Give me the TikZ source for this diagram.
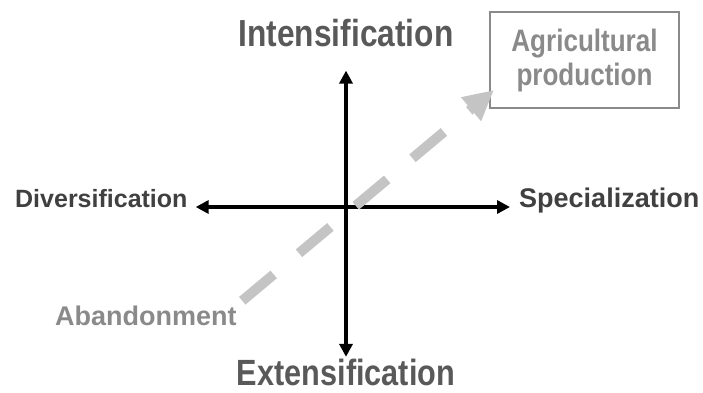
\documentclass[tikz,border=0pt]{standalone}
\usepackage{fontspec}
\setmainfont{Liberation Sans}
\newfontfamily\narrowfont{Liberation Sans}[FakeStretch=0.84]
\usetikzlibrary{arrows.meta}
\definecolor{labelgray}{HTML}{595959}
\definecolor{sidegray}{HTML}{404040}
\definecolor{pathgray}{HTML}{8A8A8A}
\definecolor{dashgray}{HTML}{C4C4C4}
\begin{document}
\begin{tikzpicture}[x=1pt, y=1pt,
	axis/.style={line width=4pt, {Triangle[length=13pt,width=13pt]}-{Triangle[length=13pt,width=13pt]}},
	mainlabel/.style={inner sep=0pt, text=labelgray, font=\narrowfont\bfseries\fontsize{37.7}{40}\selectfont},
	sidelabel/.style={inner sep=0pt, text=sidegray, font=\bfseries\fontsize{25}{28}\selectfont},
	pathlabel/.style={inner sep=0pt, text=pathgray, font=\bfseries\fontsize{27}{30}\selectfont},
	agribox/.style={shape=rectangle, draw=pathgray, line width=2pt, minimum width=189pt, minimum height=96pt, inner sep=0pt, align=center, text=pathgray, font=\narrowfont\bfseries\fontsize{31}{34}\selectfont},
	pathway/.style={line width=10pt, draw=dashgray, dash pattern=on 41pt off 33pt, -{Triangle[length=30pt,width=29pt]}}]
	\useasboundingbox (0, 0) rectangle (703, 392);
	% Labels:
	\node[mainlabel, anchor=base] (intens) at (346, 345){Intensification};
	\node[mainlabel, anchor=base, font=\narrowfont\bfseries\fontsize{36.5}{40}\selectfont] (extens) at (346, 6.5){Extensification};
	\node[sidelabel, anchor=base west] (divers) at (15, 185){Diversification};
	\node[sidelabel, anchor=base west, font=\bfseries\fontsize{27}{30}\selectfont] (special) at (519, 185){Specialization};
	\node[pathlabel, anchor=base west] (abandon) at (55, 67){Abandonment};
	\node[agribox] (agri) at (584.5, 332){Agricultural\\production};
	% Axes and pathway:
	\draw[axis, shorten <=23pt, shorten >=2pt] (intens.south) -- (extens.north);
	\draw[axis, shorten <=8pt, shorten >=9pt] (divers.base east) -- (special.base west);
	\draw[pathway, shorten <=7pt] (abandon.north east) -- ([xshift=5pt, yshift=19pt]agri.south west);
\end{tikzpicture}
\end{document}
